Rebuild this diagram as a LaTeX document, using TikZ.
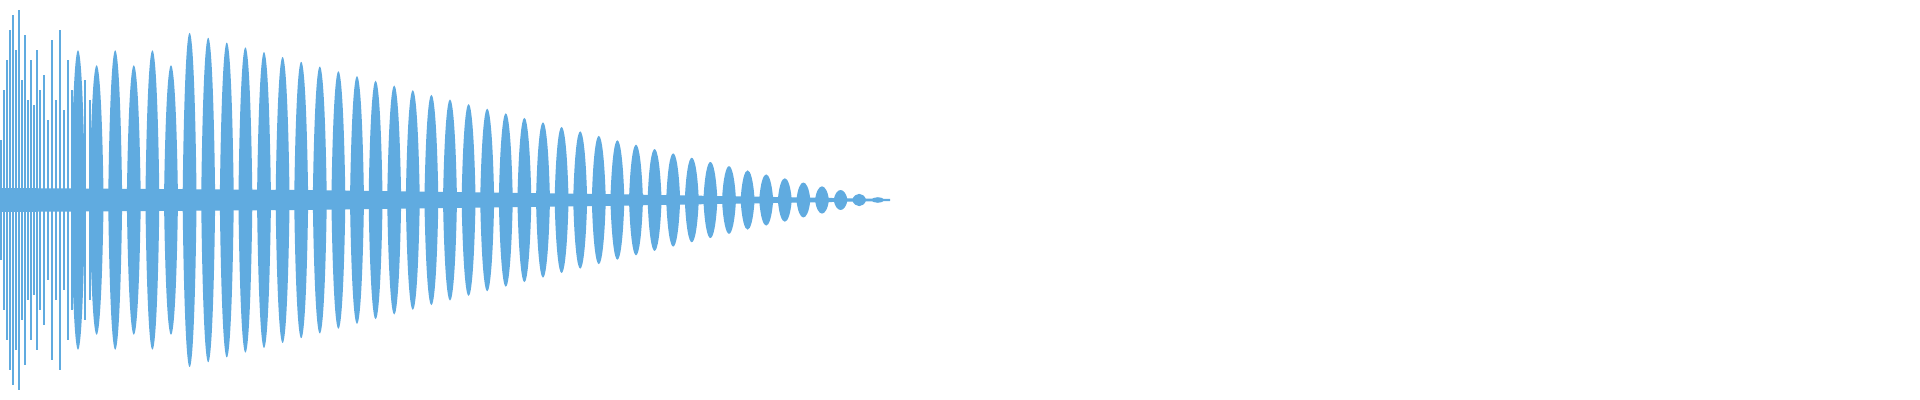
\documentclass[tikz,border=0pt]{standalone}
\definecolor{wave}{RGB}{96,171,224}
\begin{document}
\begin{tikzpicture}[x=0.01cm,y=0.01cm]
                    \useasboundingbox (0,0) rectangle (1920,400);
                    % center band
                    \fill[wave] (0,188)--(300,190)--(600,194)--(890,199)--(890,201)--(600,206)--(300,210)--(0,212)--cycle;
                    % attack spikes
                    \foreach \x/\a in {1/60,4/110,7/140,10/170,13/185,16/150,19/190,22/120,25/165,28/100,31/140,34/95,37/150,40/110,44/125,48/80,52/160,56/100,60/170,64/90,68/140,72/110,76/130,80/95,85/120,90/100}
                    {\draw[wave,line width=0.5pt] (\x,200-\a)--(\x,200+\a);}
                    % lobes
                    \foreach \i in {0,...,43}{
                      \pgfmathsetmacro{\xc}{78+\i*18.6}
                      \pgfmathsetmacro{\a}{\xc<185 ? 150-mod(\i,2)*15 : 168*(max(0,1-(\xc-184)/705))^1.1+1}
                      \fill[wave] (\xc-7,200) .. controls (\xc-4.5,200+1.33*\a) and (\xc+4.5,200+1.33*\a) .. (\xc+7,200)
                                  .. controls (\xc+4.5,200-1.33*\a) and (\xc-4.5,200-1.33*\a) .. cycle;
                    }
                    \end{tikzpicture}
\end{document}
